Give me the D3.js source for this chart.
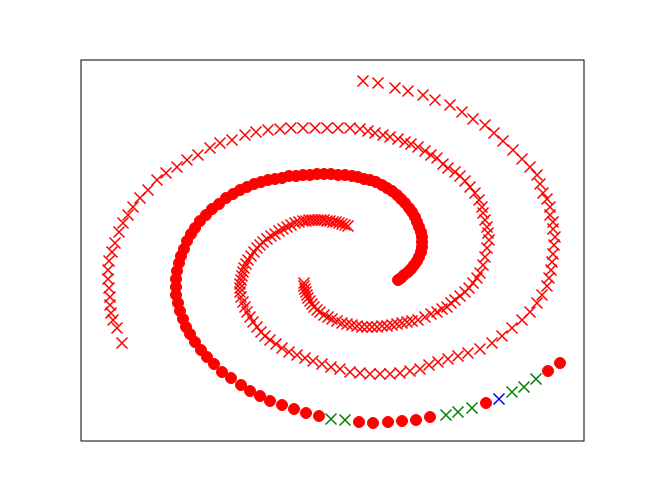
<!DOCTYPE html>
<html>
<head>
<meta charset="utf-8">
<script src="https://cdn.jsdelivr.net/npm/d3@7"></script>
<style>
  body { margin: 0; background: #fff; }
  svg { display: block; }
</style>
</head>
<body>
<svg id="chart" width="648" height="504"></svg>
<script>
// spiral of dots (class 0), from the inner end outward
const dotPoints = [
  [66,-30],[69,-28],[72,-25],[76,-22],[79,-19],[82,-15],[85,-11],[87,-7],[89,-2],[90,3],
  [90,8],[90,13],[89,18],[87,23],[85,28],[83,33],[80,38],[77,42],[73,47],[69,51],
  [65,55],[60,59],[55,62],[50,65],[44,68],[38,70],[32,71],[26,73],[20,74],[13,75],
  [6,75],[-1,76],[-8,76],[-15,76],[-22,75],[-29,75],[-36,74],[-43,74],[-50,72],[-57,71],
  [-64,70],[-71,68],[-78,66],[-85,63],[-92,60],[-99,56],[-106,52],[-113,46],[-120,41],[-126,35],
  [-132,29],[-137,22],[-141,16],[-145,9],[-148,1],[-151,-6],[-153,-13],[-155,-21],[-156,-29],[-156,-37],
  [-156,-45],[-154,-53],[-152,-61],[-149,-69],[-146,-77],[-142,-84],[-137,-92],[-131,-100],[-125,-107],[-118,-114],
  [-110,-122],[-101,-128],[-91,-135],[-82,-141],[-72,-146],[-62,-151],[-50,-155],[-38,-159],[-26,-163],[-13,-166],
  [27,-172],[41,-173],[56,-172],[70,-171],[84,-170],[98,-167],[154,-153],[216,-121],[228,-113]
];

// first spiral of crosses
const crossPointsA = [
  [-28,-33],[-28,-36],[-27,-39],[-26,-42],[-25,-45],[-24,-48],[-22,-51],[-20,-54],[-18,-57],[-15,-60],
  [-12,-62],[-8,-65],[-4,-67],[0,-69],[5,-71],[10,-73],[15,-74],[20,-75],[25,-76],[30,-77],
  [35,-77],[40,-77],[45,-77],[50,-76],[55,-76],[60,-75],[65,-74],[70,-73],[75,-72],[80,-71],
  [86,-70],[93,-67],[99,-64],[105,-62],[110,-59],[115,-57],[119,-53],[123,-50],[128,-46],[133,-42],
  [137,-38],[141,-33],[145,-28],[148,-23],[151,-15],[153,-7],[155,2],[157,10],[156,17],[155,23],
  [153,30],[151,37],[150,43],[147,50],[143,57],[138,63],[133,69],[128,74],[123,78],[116,82],
  [111,86],[105,92],[99,95],[93,99],[86,103],[79,106],[73,108],[66,111],[58,113],[51,115],
  [43,117],[36,119],[28,121],[18,122],[6,122],[-5,122],[-17,122],[-29,122],[-41,122],[-52,121],
  [-64,120],[-76,118],[-87,115],[-100,110],[-112,107],[-122,102],[-134,95],[-145,90],[-155,83],[-166,77],
  [-175,70],[-184,60],[-192,52],[-199,43],[-204,35],[-209,27],[-213,18],[-217,7],[-220,-2],[-223,-11],
  [-224,-20],[-224,-29],[-223,-38],[-222,-47],[-222,-55],[-221,-63],[-219,-70],[-215,-78],[-210,-93]
];

// second spiral of crosses
const crossPointsB = [
  [16,24],[13,25],[10,26],[7,27],[4,28],[1,28],[-2,29],[-5,29],[-8,30],[-11,30],
  [-14,30],[-17,30],[-20,30],[-23,30],[-26,29],[-29,29],[-33,28],[-37,27],[-41,25],[-45,23],
  [-49,21],[-53,19],[-57,16],[-61,14],[-65,11],[-69,8],[-72,5],[-75,2],[-78,-2],[-81,-6],
  [-84,-10],[-86,-14],[-88,-18],[-89,-22],[-90,-26],[-91,-30],[-92,-34],[-92,-38],[-92,-42],[-91,-47],
  [-89,-52],[-87,-57],[-85,-62],[-82,-67],[-79,-72],[-75,-77],[-71,-82],[-67,-86],[-62,-90],[-56,-94],
  [-50,-98],[-43,-102],[-35,-105],[-27,-108],[-19,-111],[-10,-114],[-1,-117],[8,-119],[18,-122],[28,-123],
  [38,-124],[48,-124],[58,-124],[68,-123],[78,-121],[88,-119],[97,-115],[106,-112],[116,-109],[126,-106],
  [136,-103],[148,-99],[160,-93],[170,-86],[180,-78],[190,-70],[198,-62],[205,-53],[210,-45],[215,-36],
  [217,-28],[219,-20],[220,-12],[221,-4],[222,5],[223,13],[221,21],[221,28],[218,35],[218,43],
  [215,51],[211,57],[208,66],[205,75],[198,83],[190,91],[181,100],[171,109],[162,117],[153,125],
  [141,131],[130,138],[118,145],[103,150],[91,155],[76,159],[63,162],[46,167],[31,169]
];

// highlighted points on the dot spiral
const greenPoints = [
  [-1,-169],[13,-170],[114,-165],[126,-162],[140,-158],[180,-142],[192,-137],[204,-129]
];
const bluePoints = [[167,-149]];

const xDomain = [-251, 252];
const yDomain = [-190, 190];

const svg = d3.select("#chart");
const margin = { left: 81, top: 60, right: 64, bottom: 64 };
const width = 648 - margin.left - margin.right;
const height = 504 - margin.top - margin.bottom;

const x = d3.scaleLinear(xDomain, [margin.left, margin.left + width]);
const y = d3.scaleLinear(yDomain, [margin.top + height, margin.top]);

const crossPath = "M-5.5,-5.5L5.5,5.5M-5.5,5.5L5.5,-5.5";

// dots first, crosses drawn over them
svg.append("g")
  .selectAll("circle")
  .data(dotPoints)
  .join("circle")
  .attr("cx", d => x(d[0]))
  .attr("cy", d => y(d[1]))
  .attr("r", 5.5)
  .attr("fill", "#ff0000")
  .attr("stroke", "#ff0000")
  .attr("stroke-width", 1);

function drawCrosses(points, color) {
  svg.append("g")
    .selectAll("path")
    .data(points)
    .join("path")
    .attr("d", crossPath)
    .attr("transform", d => `translate(${x(d[0])},${y(d[1])})`)
    .attr("fill", "none")
    .attr("stroke", color)
    .attr("stroke-width", 1.5);
}

drawCrosses(crossPointsA, "#ff0000");
drawCrosses(crossPointsB, "#ff0000");
drawCrosses(greenPoints, "#008000");
drawCrosses(bluePoints, "#0000ff");

// axes frame
svg.append("rect")
  .attr("x", margin.left)
  .attr("y", margin.top)
  .attr("width", width)
  .attr("height", height + 1)
  .attr("fill", "none")
  .attr("stroke", "#000")
  .attr("stroke-width", 1);
</script>
</body>
</html>
